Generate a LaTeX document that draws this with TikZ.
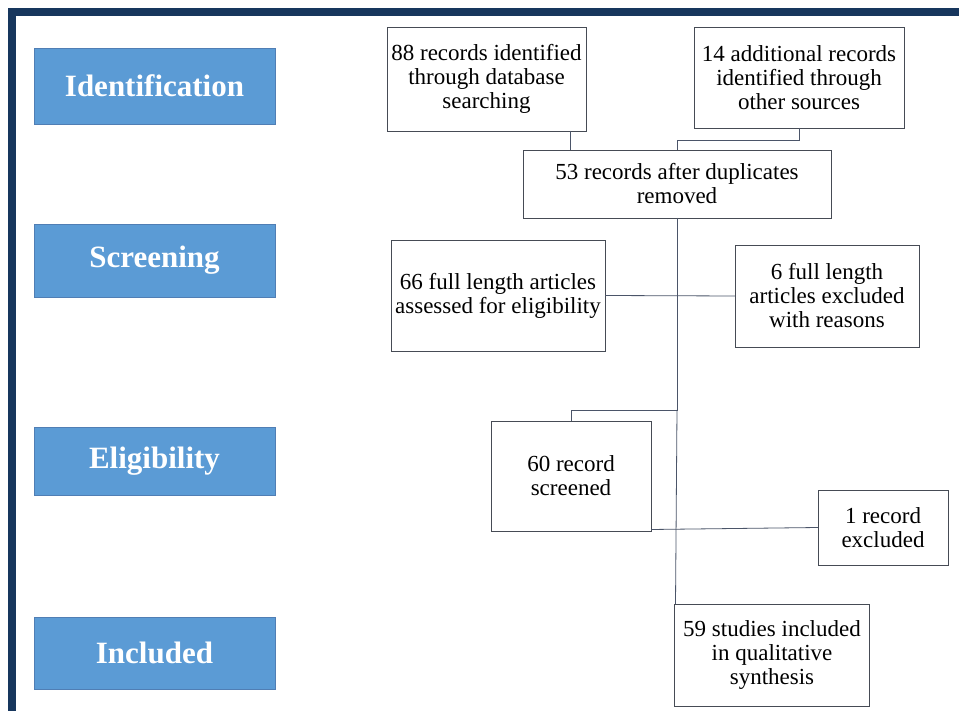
\documentclass[tikz,border=0pt]{standalone}
\usepackage{fontspec}
\setmainfont{Liberation Serif}
\usetikzlibrary{calc}
\definecolor{navy}{RGB}{23,54,93}
\definecolor{stageblue}{RGB}{91,155,213}
\definecolor{stageedge}{RGB}{80,126,180}
\definecolor{linec}{RGB}{75,85,105}
\definecolor{boxedge}{RGB}{70,75,85}
\tikzset{
  stage/.style={fill=stageblue, draw=stageedge, line width=0.6pt, text=white,
    font=\rmfamily\bfseries\fontsize{31}{34}\selectfont, minimum width=241pt, inner sep=0pt, outer sep=0pt},
  recbox/.style={draw=boxedge, line width=0.8pt, fill=white, align=center,
    font=\rmfamily\fontsize{23}{24}\selectfont, inner sep=0pt, outer sep=0pt},
  conn/.style={draw=linec, line width=0.8pt}
}
\begin{document}
\begin{tikzpicture}[x=1pt,y=-1pt]
\useasboundingbox (0,0) rectangle (959,711);
\fill[white] (0,0) rectangle (959,711);
% frame
\fill[navy] (8,8) rectangle (959,16);
\fill[navy] (8,8) rectangle (16,711);
% stage labels
\node[stage, minimum height=76pt] (s1) at (154.5,86) {Identification};
\node[stage, minimum height=73pt] (s2) at (154.5,260.5) {Screening};
\node[stage, minimum height=68pt] (s3) at (154.5,461) {Eligibility};
\node[stage, minimum height=72pt] (s4) at (154.5,653) {Included};
% record boxes
\node[recbox, minimum width=199pt, minimum height=104pt] (A) at (486.5,79) {88 records identified\\through database\\searching};
\node[recbox, minimum width=210pt, minimum height=101pt] (B) at (799,77.5) {14 additional records\\identified through\\other sources};
\node[recbox, minimum width=308pt, minimum height=68pt] (C) at (677,184) {53 records after duplicates\\removed};
\node[recbox, minimum width=214pt, minimum height=111pt] (D) at (498,295.5) {66 full length articles\\assessed for eligibility};
\node[recbox, minimum width=184pt, minimum height=102pt] (E) at (827,296) {6 full length\\articles excluded\\with reasons};
\node[recbox, minimum width=160pt, minimum height=110pt] (F) at (571,476) {60 record\\screened};
\node[recbox, minimum width=130pt, minimum height=75pt] (G) at (883,527.5) {1 record\\excluded};
\node[recbox, minimum width=195pt, minimum height=102pt] (H) at (772,655) {59 studies included\\in qualitative\\synthesis};
% connectors
\coordinate (a1) at ($(A.south)+(83.5,0)$);
\draw[conn] (a1) -- (a1 |- C.north);
\coordinate (b1) at ($(C.north)+(0,-10)$);
\draw[conn] (B.south) |- (b1) -- (C.north);
\coordinate (j1) at ($(C.south)+(0,192)$);
\draw[conn] (C.south) -- (j1) -| (F.north);
\coordinate (h1) at ($(H.north west)+(1,0)$);
\draw[conn] (j1) -- (h1);
\draw[conn] (D.east) -- (E.west);
\coordinate (f1) at ($(F.south east)+(0,-1.5)$);
\draw[conn] (f1) -- (G.west);
\end{tikzpicture}
\end{document}
